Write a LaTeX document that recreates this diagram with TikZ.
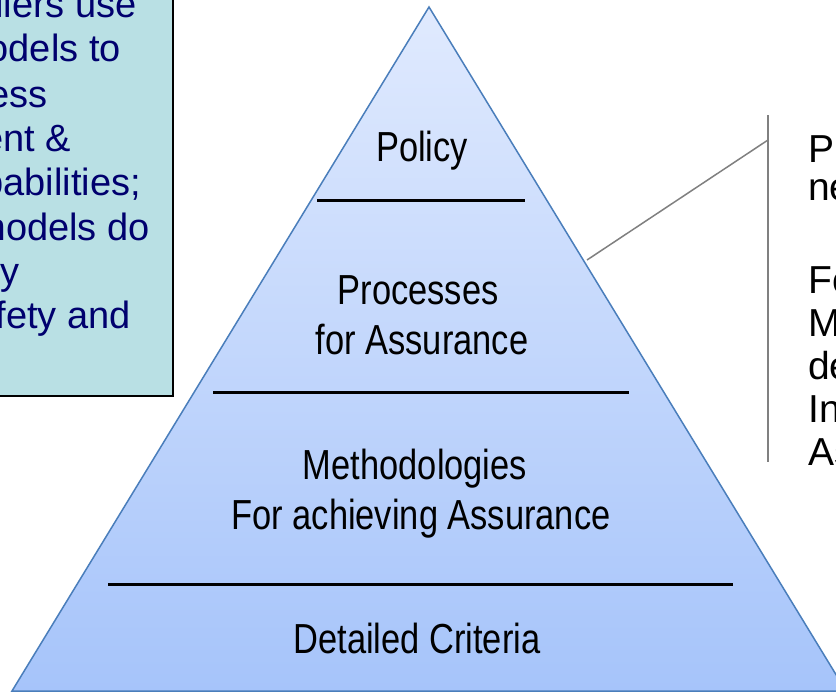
\documentclass[tikz,border=0pt]{standalone}
\usepackage{fontspec}
\setmainfont{Liberation Sans}
\begin{document}
\begin{tikzpicture}[x=1pt,y=-1pt,
  pyrtext/.style={font=\fontsize{42}{48}\selectfont, anchor=base, inner sep=0pt, text=black},
  boxtext/.style={font=\fontsize{38}{44}\selectfont, anchor=base east, inner sep=0pt, text=boxtxt},
  sidetext/.style={font=\fontsize{39}{45}\selectfont, anchor=base west, inner sep=0pt, text=black},
  tier/.style={line width=3pt, draw=black},
  callout/.style={line width=1.5pt, draw=callgray},
  notebox/.style={fill=boxfill, draw=black, line width=2pt}
]
\definecolor{boxfill}{RGB}{185,224,228}
\definecolor{boxtxt}{RGB}{0,0,110}
\definecolor{pyrtop}{RGB}{224,234,254}
\definecolor{pyrbot}{RGB}{166,196,250}
\definecolor{pyredge}{RGB}{74,126,187}
\definecolor{callgray}{RGB}{128,128,128}
\useasboundingbox (0,0) rectangle (836,693);
\fill[white] (0,0) rectangle (836,693);

% left note box (partly off the page)
\draw[notebox] (-30,-30) rectangle (173,396);
\node[boxtext] (b1) at (137,18) {ilers use};
\node[boxtext] (b2) at (121,62) {odels to};
\node[boxtext] (b3) at (48,107) {ess};
\node[boxtext] (b4) at (71,151) {ent \&};
\node[boxtext] (b5) at (141,195) {pabilities;};
\node[boxtext] (b6) at (150,240) {models do};
\node[boxtext] (b7) at (20,284) {ly};
\node[boxtext] (b8) at (131,328) {fety and};

% pyramid
\shade[top color=pyrtop, bottom color=pyrbot, draw=pyredge, line width=1.5pt]
  (429,7) -- (12,691) -- (846,691) -- cycle;
\coordinate (l1a) at (317,200); \coordinate (l1b) at (525,200);
\coordinate (l2a) at (213,392); \coordinate (l2b) at (629,392);
\coordinate (l3a) at (108,584); \coordinate (l3b) at (733,584);
\draw[tier] (l1a) -- (l1b);
\draw[tier] (l2a) -- (l2b);
\draw[tier] (l3a) -- (l3b);

\node[pyrtext] (t1) at (422,161) {\scalebox{0.82}[1]{Policy}};
\node[pyrtext] (t2) at (418,304) {\scalebox{0.82}[1]{Processes}};
\node[pyrtext] (t3) at (422,354) {\scalebox{0.82}[1]{for Assurance}};
\node[pyrtext] (t4) at (415,479) {\scalebox{0.82}[1]{Methodologies}};
\node[pyrtext] (t5) at (421,529) {\scalebox{0.82}[1]{For achieving Assurance}};
\node[pyrtext] (t6) at (417,653) {\scalebox{0.82}[1]{Detailed Criteria}};

% callout
\coordinate (cA) at (587,260);
\coordinate (cB) at (768,140);
\coordinate (cT) at (768,115);
\coordinate (cE) at (768,462);
\draw[callout] (cA) -- (cB);
\draw[callout] (cT) -- (cE);

\node[sidetext] (s1) at (808,162) {P};
\node[sidetext] (s2) at (808,200) {ne};
\node[sidetext] (s3) at (808,293) {Fo};
\node[sidetext] (s4) at (808,336) {M};
\node[sidetext] (s5) at (808,379) {de};
\node[sidetext] (s6) at (808,422) {In};
\node[sidetext] (s7) at (808,465) {As};
\end{tikzpicture}
\end{document}
